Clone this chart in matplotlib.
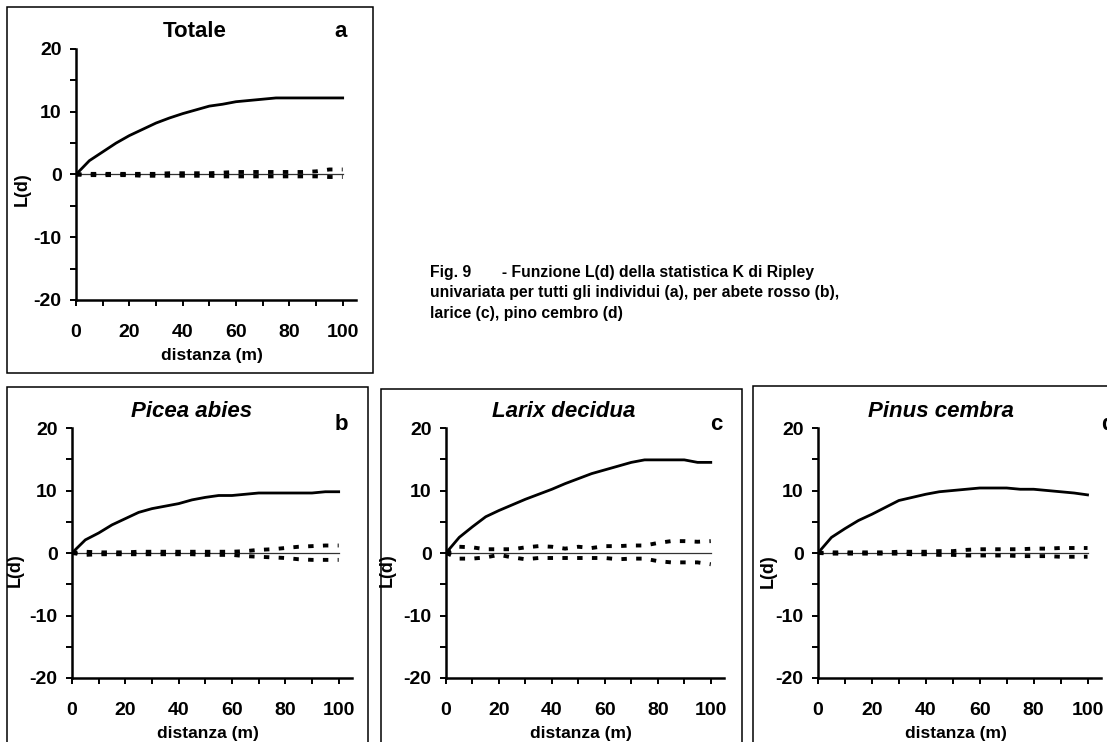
import matplotlib
matplotlib.use("Agg")
import matplotlib.pyplot as plt
from matplotlib.patches import Rectangle
from matplotlib.ticker import MultipleLocator

plt.rcParams['font.family'] = ['Liberation Sans', 'DejaVu Sans']
plt.rcParams['font.weight'] = 'bold'
plt.rcParams['axes.unicode_minus'] = False

W, H = 1107, 742

# distanza (m)
distanza = [0, 5, 10, 15, 20, 25, 30, 35, 40, 45, 50,
            55, 60, 65, 70, 75, 80, 85, 90, 95, 100]

# L(d) osservata e inviluppi di confidenza
totale_L = [0, 2.2, 3.6, 5.0, 6.2, 7.2, 8.2, 9.0, 9.7, 10.3, 10.9,
            11.2, 11.6, 11.8, 12.0, 12.2, 12.2, 12.2, 12.2, 12.2, 12.2]
totale_sup = [0, 0.1, 0.1, 0.1, 0.1, 0.1, 0.1, 0.2, 0.2, 0.2, 0.2,
              0.3, 0.4, 0.4, 0.4, 0.4, 0.4, 0.4, 0.5, 0.8, 0.8]
totale_inf = [0, -0.1, -0.1, -0.1, -0.1, -0.2, -0.2, -0.2, -0.2, -0.2, -0.2,
              -0.3, -0.3, -0.3, -0.3, -0.3, -0.3, -0.3, -0.3, -0.4, -0.4]

picea_L = [0, 2.1, 3.2, 4.5, 5.5, 6.5, 7.1, 7.5, 7.9, 8.5, 8.9,
           9.2, 9.2, 9.4, 9.6, 9.6, 9.6, 9.6, 9.6, 9.8, 9.8]
picea_sup = [0, 0.2, 0.1, 0.1, 0.1, 0.2, 0.2, 0.2, 0.2, 0.2, 0.2,
             0.2, 0.2, 0.3, 0.5, 0.6, 0.8, 1.0, 1.1, 1.2, 1.2]
picea_inf = [0, -0.3, -0.2, -0.2, -0.2, -0.2, -0.2, -0.2, -0.2, -0.2, -0.3,
             -0.3, -0.3, -0.5, -0.6, -0.7, -0.8, -1.0, -1.1, -1.1, -1.1]

larix_L = [0, 2.5, 4.2, 5.8, 6.8, 7.7, 8.6, 9.4, 10.2, 11.1, 11.9,
           12.7, 13.3, 13.9, 14.5, 14.9, 14.9, 14.9, 14.9, 14.5, 14.5]
larix_sup = [0, 1.0, 0.9, 0.6, 0.6, 0.6, 0.9, 1.1, 1.0, 0.7, 1.0,
             0.8, 1.1, 1.1, 1.2, 1.2, 1.6, 1.9, 1.9, 1.8, 1.9]
larix_inf = [0, -0.9, -0.9, -0.7, -0.3, -0.7, -1.0, -0.8, -0.8, -0.8, -0.8,
             -0.8, -0.8, -1.0, -0.9, -0.9, -1.3, -1.5, -1.5, -1.5, -1.8]

pinus_L = [0, 2.5, 3.9, 5.2, 6.2, 7.3, 8.4, 8.9, 9.4, 9.8, 10.0,
           10.2, 10.4, 10.4, 10.4, 10.2, 10.2, 10.0, 9.8, 9.6, 9.3]
pinus_sup = [0, 0.1, 0.1, 0.1, 0.1, 0.1, 0.2, 0.2, 0.2, 0.3, 0.3,
             0.5, 0.6, 0.6, 0.6, 0.6, 0.7, 0.7, 0.8, 0.8, 0.8]
pinus_inf = [0, -0.1, -0.1, -0.1, -0.1, -0.1, -0.1, -0.2, -0.2, -0.3, -0.3,
             -0.4, -0.4, -0.4, -0.4, -0.5, -0.5, -0.5, -0.6, -0.6, -0.6]

titoli = ['Totale', 'Picea abies', 'Larix decidua', 'Pinus cembra']
lettere = ['a', 'b', 'c', 'd']
serie = [(totale_L, totale_sup, totale_inf),
         (picea_L, picea_sup, picea_inf),
         (larix_L, larix_sup, larix_inf),
         (pinus_L, pinus_sup, pinus_inf)]

didascalia = ['Fig. 9       - Funzione L(d) della statistica K di Ripley',
              'univariata per tutti gli individui (a), per abete rosso (b),',
              'larice (c), pino cembro (d)']

# posizioni in pixel: riquadro (x0, y0, x1, y1), assi (sinistra, destra, alto, basso)
riquadri = [(7, 7, 373, 373), (7, 387, 368, 760), (381, 389, 742, 760), (753, 386, 1120, 760)]
assi = [(76, 356, 49, 300), (72, 352, 428, 678), (446, 724, 428, 678), (818, 1101, 428, 678)]
pos_titolo = [(195, 37), (192, 417), (564, 417), (941, 417)]
pos_lettera = [(341, 37), (341, 430), (716, 430), (1108, 430)]
pos_yl = [(22, 189), (15, 570), (387, 570), (768, 571)]


def fx(px):
    return px / W


def fy(py):
    return 1 - py / H


fig = plt.figure(figsize=(W / 100, H / 100), dpi=100)

for i in range(4):
    x0, y0, x1, y1 = riquadri[i]
    fig.patches.append(Rectangle((fx(x0), fy(y1)), fx(x1 - x0), (y1 - y0) / H,
                                 transform=fig.transFigure, fill=False,
                                 edgecolor='black', linewidth=1.1))

    l, r, t, b = assi[i]
    ax = fig.add_axes([fx(l), fy(b), fx(r - l), (b - t) / H])
    L, sup, inf = serie[i]

    ax.plot([0, 100], [0, 0], color='#333333', linewidth=0.9)
    ax.plot(distanza, sup, color='black', linewidth=2.8, dashes=(1.4, 2.4),
            dash_capstyle='butt')
    ax.plot(distanza, inf, color='black', linewidth=2.8, dashes=(1.4, 2.4),
            dash_capstyle='butt')
    ax.plot(distanza, L, color='black', linewidth=2.0)

    ax.set_xlim(0, 105)
    ax.set_ylim(-20, 20)
    ax.xaxis.set_major_locator(MultipleLocator(20))
    ax.xaxis.set_minor_locator(MultipleLocator(10))
    ax.yaxis.set_major_locator(MultipleLocator(10))
    ax.yaxis.set_minor_locator(MultipleLocator(5))
    ax.spines['top'].set_visible(False)
    ax.spines['right'].set_visible(False)
    ax.spines['left'].set_linewidth(1.8)
    ax.spines['bottom'].set_linewidth(1.8)
    ax.tick_params(which='both', direction='out', length=4.3, width=1.4)
    ax.tick_params(axis='x', which='major', pad=13, labelsize=14)
    ax.tick_params(axis='y', which='major', pad=6, labelsize=14)
    ax.patch.set_alpha(0)

    ax.text(0.486, -60 / (b - t), 'distanza (m)', transform=ax.transAxes,
            ha='center', va='baseline', fontsize=12.5, fontweight='bold')

    xt, yt = pos_titolo[i]
    fig.text(fx(xt), fy(yt), titoli[i], ha='center', va='baseline',
             fontsize=16, fontweight='bold', style='normal' if i == 0 else 'italic')
    xl, yl = pos_lettera[i]
    fig.text(fx(xl), fy(yl), lettere[i], ha='center', va='baseline',
             fontsize=16, fontweight='bold')
    xy, yy = pos_yl[i]
    fig.text(fx(xy), fy(yy), 'L(d)', ha='center', va='center', rotation=90,
             fontsize=13, fontweight='bold')

for k, riga in enumerate(didascalia):
    fig.text(fx(430), fy(277 + 20.5 * k), riga, ha='left', va='baseline',
             fontsize=11.3, fontweight='bold')

fig.savefig('out.png', dpi=100)
